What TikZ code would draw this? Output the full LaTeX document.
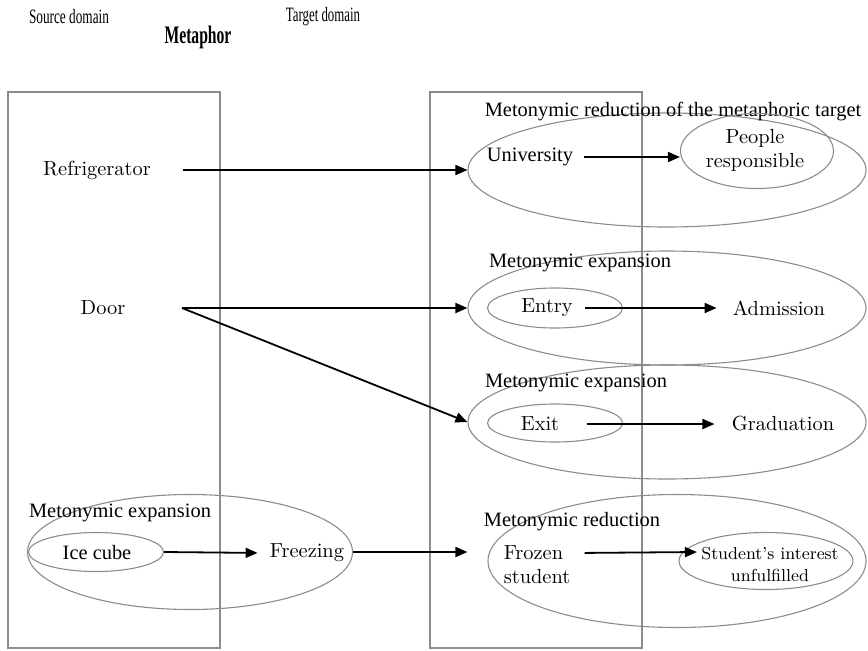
\documentclass[tikz,border=0pt]{standalone}
\usepackage{fontspec}
\usepackage{graphicx}
\usetikzlibrary{shapes.geometric,arrows.meta,positioning}
\newfontfamily\timesfont{Liberation Serif}
\definecolor{framegray}{RGB}{140,140,140}
\tikzset{
    lbl/.style={font=\fontsize{10.2}{12}\selectfont, inner sep=2pt},
    tlbl/.style={font=\timesfont\fontsize{10.2}{12}\selectfont, inner sep=2pt},
    hdr/.style={font=\timesfont\fontsize{10.2}{12}\selectfont, inner sep=2pt},
    ring/.style={draw=framegray, line width=0.55pt, ellipse, inner sep=0pt},
    arr/.style={-{Triangle[length=6pt,width=5pt]}, line width=0.9pt, black},
}
\begin{document}
\begin{tikzpicture}[x=0.5pt, y=-0.5pt]
    \useasboundingbox (0,0) rectangle (868,650);

    % Domains
    \draw[framegray, line width=0.8pt] (8,92) rectangle (220,648);
    \draw[framegray, line width=0.8pt] (430,92) rectangle (642,648);
    \node[hdr] (srchead) at (69,17) {\scalebox{0.65}[1]{Source domain}};
    \node[hdr] (tgthead) at (323,17) {\scalebox{0.63}[1]{Target domain}};
    \node[inner sep=2pt] (metahead) at (198,37) {\scalebox{0.62}[1]{\timesfont\fontsize{12.6}{14}\selectfont\bfseries Metaphor}};

    % Source domain
    \node[lbl] (fridge) at (97,170) {Refrigerator};
    \node[lbl] (door) at (103,308) {Door};
    \coordinate (doorout) at (182,308);

    % Ice cube -> Freezing
    \node[ring, minimum width=162.5pt, minimum height=57.5pt] (freezering) at (190,552) {};
    \node[ring, minimum width=67.5pt, minimum height=19.5pt] (icering) at (96,552) {};
    \node[tlbl] (freezelbl) at (120,513) {Metonymic expansion};
    \node[tlbl] (ice) at (97,553) {Ice cube};
    \node[lbl] (freezing) at (307,553) {Freezing};

    % University
    \node[ring, minimum width=199pt, minimum height=57pt] (uniring) at (667,170) {};
    \node[tlbl] (unilbl) at (673,112) {Metonymic reduction of the metaphoric target};
    \node[tlbl] (uni) at (530,157) {University};
    \node[ring, minimum width=76.5pt, minimum height=37.5pt] (peoplering) at (757,151) {};
    \node[lbl, align=center] (people) at (755,150) {People\\responsible};

    % Entry / Admission
    \node[ring, minimum width=199pt, minimum height=57pt] (admring) at (667,308) {};
    \node[tlbl] (admlbl) at (580,263) {Metonymic expansion};
    \node[ring, minimum width=67.5pt, minimum height=20pt] (entryring) at (555,308) {};
    \node[lbl] (entry) at (547,308) {Entry};
    \node[lbl] (admission) at (779,308) {Admission};

    % Exit / Graduation
    \node[ring, minimum width=199pt, minimum height=57pt] (gradring) at (667,422) {};
    \node[tlbl] (gradlbl) at (576,383) {Metonymic expansion};
    \node[ring, minimum width=67.5pt, minimum height=19pt] (exitring) at (555,423) {};
    \node[lbl] (exit) at (540,424) {Exit};
    \node[lbl] (graduation) at (783,424) {Graduation};

    % Frozen student
    \node[ring, minimum width=189pt, minimum height=66.5pt] (reducering) at (677,561) {};
    \node[tlbl] (reducelbl) at (572,522) {Metonymic reduction};
    \node[lbl, align=left] (frozen) at (537,565) {Frozen\\student};
    \node[ring, minimum width=87pt, minimum height=28.5pt] (interestring) at (766,561) {};
    \node[font=\fontsize{8.7}{11}\selectfont, align=center, inner sep=2pt] (interest) at (770,564) {Student’s interest\\unfulfilled};

    % Mappings
    \draw[arr, shorten <=14pt] (fridge.east) -- (uniring.west);
    \draw[arr] (doorout) -- (admring.west);
    \draw[arr] (doorout) -- (gradring.west);
    \draw[arr, shorten >=10pt] (freezering.east) -- (freezering.east -| reducering.west);

    % Metonymies
    \draw[arr, shorten <=3.5pt] (uni.east) -- (uni.east -| peoplering.west);
    \draw[arr, shorten <=4pt, shorten >=6pt] (entry.east) -- (admission.west);
    \draw[arr, shorten <=11.5pt, shorten >=6.5pt] (exit.east) -- (graduation.west);
    \draw[arr, shorten >=4pt] (icering.east) -- (freezing.west);
    \draw[arr, shorten <=5pt] ([yshift=6pt]frozen.east) -- ([yshift=6pt]interest.west);
\end{tikzpicture}
\end{document}
